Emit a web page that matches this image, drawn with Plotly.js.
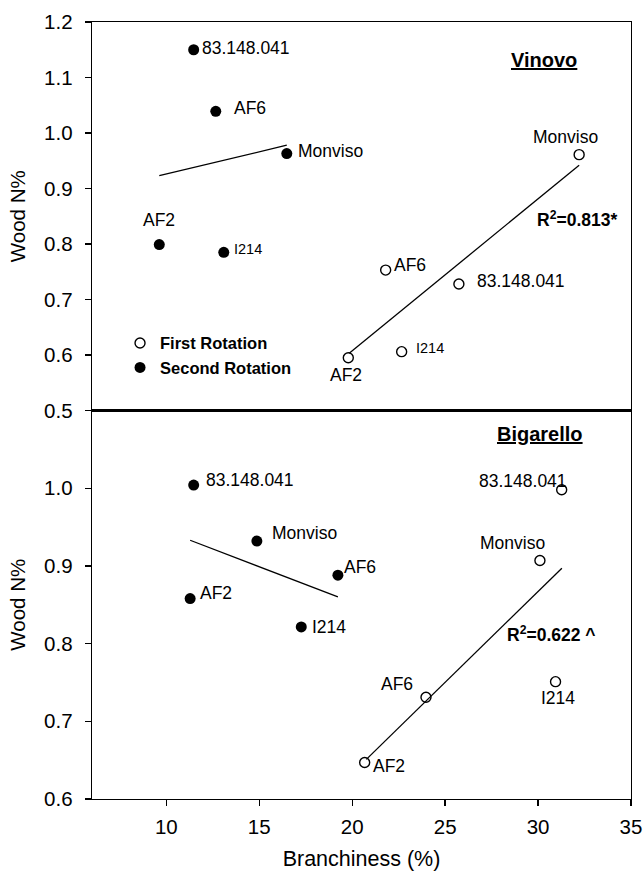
<!DOCTYPE html>
<html>
<head>
<meta charset="utf-8">
<script src="https://cdn.plot.ly/plotly-3.0.1.min.js"></script>
<style>html,body{margin:0;padding:0;background:#fff;}#chart{width:643px;height:874px;}</style>
</head>
<body>
<div id="chart"></div>
<script>
// ---------- data ----------
const clones = ["83.148.041", "AF6", "Monviso", "AF2", "I214"];

// Vinovo (top panel)
const vinFirstX  = [25.74, 21.80, 32.21, 19.79, 22.66];
const vinFirstY  = [0.728, 0.753, 0.961, 0.595, 0.606];
const vinSecondX = [11.47, 12.66, 16.48, 9.62, 13.09];
const vinSecondY = [1.150, 1.039, 0.963, 0.799, 0.785];
const vinFirstFitX  = [19.84, 32.21];
const vinFirstFitY  = [0.603, 0.942];
const vinSecondFitX = [9.62, 16.48];
const vinSecondFitY = [0.923, 0.978];

// Bigarello (bottom panel)
const bigFirstX  = [31.27, 23.97, 30.10, 20.67, 30.94];
const bigFirstY  = [0.998, 0.731, 0.907, 0.647, 0.751];
const bigSecondX = [11.47, 19.23, 14.87, 11.28, 17.26];
const bigSecondY = [1.004, 0.888, 0.932, 0.858, 0.8215];
const bigFirstFitX  = [20.76, 31.28];
const bigFirstFitY  = [0.651, 0.897];
const bigSecondFitX = [11.28, 19.23];
const bigSecondFitY = [0.933, 0.860];

const xTicks = [10, 15, 20, 25, 30, 35];
const yTicksTop = [0.5, 0.6, 0.7, 0.8, 0.9, 1.0, 1.1, 1.2];
const yTicksBottom = [0.6, 0.7, 0.8, 0.9, 1.0];

// ---------- styling ----------
const FONT = "Liberation Sans, Arial, sans-serif";
const openMarker = {symbol: "circle-open", size: 10, color: "#000", line: {width: 1.4, color: "#000"}};
const filledMarker = {symbol: "circle", size: 11, color: "#000"};
const fitLine = {color: "#000", width: 1.3};

// label offsets [xanchor, xshift, yshift, fontsize] per clone order
const offVinFirst  = [["left",16,3,17.5],["left",6,5,17.5],["center",-14,18,17.5],["center",-2,-17,17.5],["left",12,4,14.5]];
const offVinSecond = [["left",6,2,17.5],["left",16,3,17.5],["left",9,3,17.5],["center",0,25,17.5],["left",8,3,14.5]];
const offBigFirst  = [["right",7,9,17.5],["center",-29,13,17.5],["center",-27,17,17.5],["left",6,-4,17.5],["center",2,-16,17.5]];
const offBigSecond = [["left",10,5,17.5],["left",4,8,17.5],["left",13,8,17.5],["left",8,6,17.5],["left",9,0,17.5]];

function labels(xs, ys, offs, xref, yref) {
  return clones.map((c, i) => ({
    x: xs[i], y: ys[i], xref: xref, yref: yref, text: c, showarrow: false,
    xanchor: offs[i][0], yanchor: "middle", xshift: offs[i][1], yshift: offs[i][2],
    font: {family: FONT, size: offs[i][3], color: "#000"}
  }));
}

const traces = [
  {x: vinFirstX, y: vinFirstY, xaxis: "x2", yaxis: "y2", mode: "markers", marker: openMarker, name: "First Rotation", showlegend: true, cliponaxis: false},
  {x: vinSecondX, y: vinSecondY, xaxis: "x2", yaxis: "y2", mode: "markers", marker: filledMarker, name: "Second Rotation", showlegend: true, cliponaxis: false},
  {x: vinFirstFitX, y: vinFirstFitY, xaxis: "x2", yaxis: "y2", mode: "lines", line: fitLine, showlegend: false},
  {x: vinSecondFitX, y: vinSecondFitY, xaxis: "x2", yaxis: "y2", mode: "lines", line: fitLine, showlegend: false},
  {x: bigFirstX, y: bigFirstY, xaxis: "x", yaxis: "y", mode: "markers", marker: openMarker, showlegend: false, cliponaxis: false},
  {x: bigSecondX, y: bigSecondY, xaxis: "x", yaxis: "y", mode: "markers", marker: filledMarker, showlegend: false, cliponaxis: false},
  {x: bigFirstFitX, y: bigFirstFitY, xaxis: "x", yaxis: "y", mode: "lines", line: fitLine, showlegend: false},
  {x: bigSecondFitX, y: bigSecondFitY, xaxis: "x", yaxis: "y", mode: "lines", line: fitLine, showlegend: false}
];

const axisCommon = {
  showgrid: false, zeroline: false, showline: true, mirror: true,
  linecolor: "#000", linewidth: 1.3, ticks: "outside", ticklen: 6, tickwidth: 1.3, tickcolor: "#000",
  tickfont: {family: FONT, size: 20.5, color: "#000"}
};

const annotations = []
  .concat(labels(vinFirstX, vinFirstY, offVinFirst, "x2", "y2"))
  .concat(labels(vinSecondX, vinSecondY, offVinSecond, "x2", "y2"))
  .concat(labels(bigFirstX, bigFirstY, offBigFirst, "x", "y"))
  .concat(labels(bigSecondX, bigSecondY, offBigSecond, "x", "y"))
  .concat([
    {x: 30.33, y: 1.132, xref: "x2", yref: "y2", text: "<b><u>Vinovo</u></b>", showarrow: false, xanchor: "center", yanchor: "middle", font: {family: FONT, size: 20, color: "#000"}},
    {x: 30.12, y: 1.07, xref: "x", yref: "y", text: "<b><u>Bigarello</u></b>", showarrow: false, xanchor: "center", yanchor: "middle", font: {family: FONT, size: 20, color: "#000"}},
    {x: 34.35, y: 0.845, xref: "x2", yref: "y2", text: "<b>R<sup>2</sup>=0.813*</b>", showarrow: false, xanchor: "right", yanchor: "middle", font: {family: FONT, size: 17.5, color: "#000"}},
    {x: 33.22, y: 0.812, xref: "x", yref: "y", text: "<b>R<sup>2</sup>=0.622 ^</b>", showarrow: false, xanchor: "right", yanchor: "middle", font: {family: FONT, size: 17.5, color: "#000"}}
  ]);

const layout = {
  width: 643, height: 874,
  margin: {l: 92, r: 12, t: 22, b: 75},
  paper_bgcolor: "#fff", plot_bgcolor: "#fff",
  font: {family: FONT, color: "#000"},
  xaxis: Object.assign({}, axisCommon, {
    domain: [0, 1], anchor: "y", range: [6, 35], tickvals: xTicks, ticklabelstandoff: 3,
    title: {text: "Branchiness (%)", font: {family: FONT, size: 21.5, color: "#000"}, standoff: 14}
  }),
  xaxis2: Object.assign({}, axisCommon, {
    domain: [0, 1], anchor: "y2", matches: "x", range: [6, 35], ticks: "", showticklabels: false
  }),
  yaxis: Object.assign({}, axisCommon, {
    domain: [0, 0.5], anchor: "x", range: [0.6, 1.1], tickvals: yTicksBottom, tickformat: ".1f", ticklabelstandoff: 8,
    title: {text: "Wood N%", font: {family: FONT, size: 20.5, color: "#000"}, standoff: 13}
  }),
  yaxis2: Object.assign({}, axisCommon, {
    domain: [0.5, 1], anchor: "x2", range: [0.5, 1.2], tickvals: yTicksTop, tickformat: ".1f", ticklabelstandoff: 8,
    title: {text: "Wood N%", font: {family: FONT, size: 20.5, color: "#000"}, standoff: 13}
  }),
  showlegend: true,
  legend: {
    x: 0.052, y: 0.609, xanchor: "left", yanchor: "top",
    bgcolor: "rgba(0,0,0,0)", borderwidth: 0, itemwidth: 30, tracegroupgap: 0,
    font: {family: FONT, size: 16.5, color: "#000", weight: "bold"}
  },
  annotations: annotations
};

Plotly.newPlot("chart", traces, layout, {displayModeBar: false, staticPlot: true});
</script>
</body>
</html>
